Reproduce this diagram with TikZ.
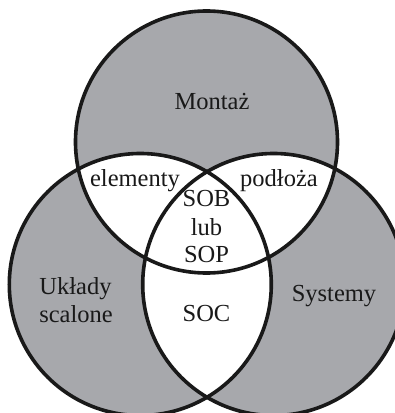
\documentclass[tikz,border=0pt]{standalone}
\usepackage{fontspec}
\setmainfont{Liberation Serif}
\definecolor{venngray}{RGB}{167,168,172}
\begin{document}
\begin{tikzpicture}[x=1pt,y=1pt,
  ring/.style={line width=3.6pt, draw=black!90},
  lbl/.style={font=\fontsize{24.5}{28}\selectfont, anchor=base, inner sep=0pt, text=black!90}]
\useasboundingbox (0,0) rectangle (395,413);
\clip (0,0) rectangle (395,413);
\fill[white] (0,0) rectangle (395,413);
% circle centres
\coordinate (ct) at (206.5,271);
\coordinate (cl) at (140.3,128.5);
\coordinate (cr) at (273.7,128.5);
\def\R{131pt}
% single-set regions in grey
\fill[venngray] (ct) circle[radius=\R];
\fill[venngray] (cl) circle[radius=\R];
\fill[venngray] (cr) circle[radius=\R];
% overlaps in white
\begin{scope}
  \clip (ct) circle[radius=\R];
  \fill[white] (cl) circle[radius=\R];
  \fill[white] (cr) circle[radius=\R];
\end{scope}
\begin{scope}
  \clip (cl) circle[radius=\R];
  \fill[white] (cr) circle[radius=\R];
\end{scope}
% outlines
\draw[ring] (ct) circle[radius=\R];
\draw[ring] (cl) circle[radius=\R];
\draw[ring] (cr) circle[radius=\R];
% labels
\node[lbl] (montaz) at (212,303) {Montaż};
\node[lbl] (elem) at (135,226.5) {elementy};
\node[lbl] (podl) at (279,226.5) {podłoża};
\node[lbl] (sob) at (206.5,206) {SOB};
\node[lbl] (lub) at (206.5,177.5) {lub};
\node[lbl] (sop) at (206.5,150) {SOP};
\node[lbl] (uklady) at (75.5,118) {Układy};
\node[lbl] (scal) at (76,90.5) {scalone};
\node[lbl] (syst) at (334,111.5) {Systemy};
\node[lbl] (soc) at (206.5,91) {SOC};
\end{tikzpicture}
\end{document}
